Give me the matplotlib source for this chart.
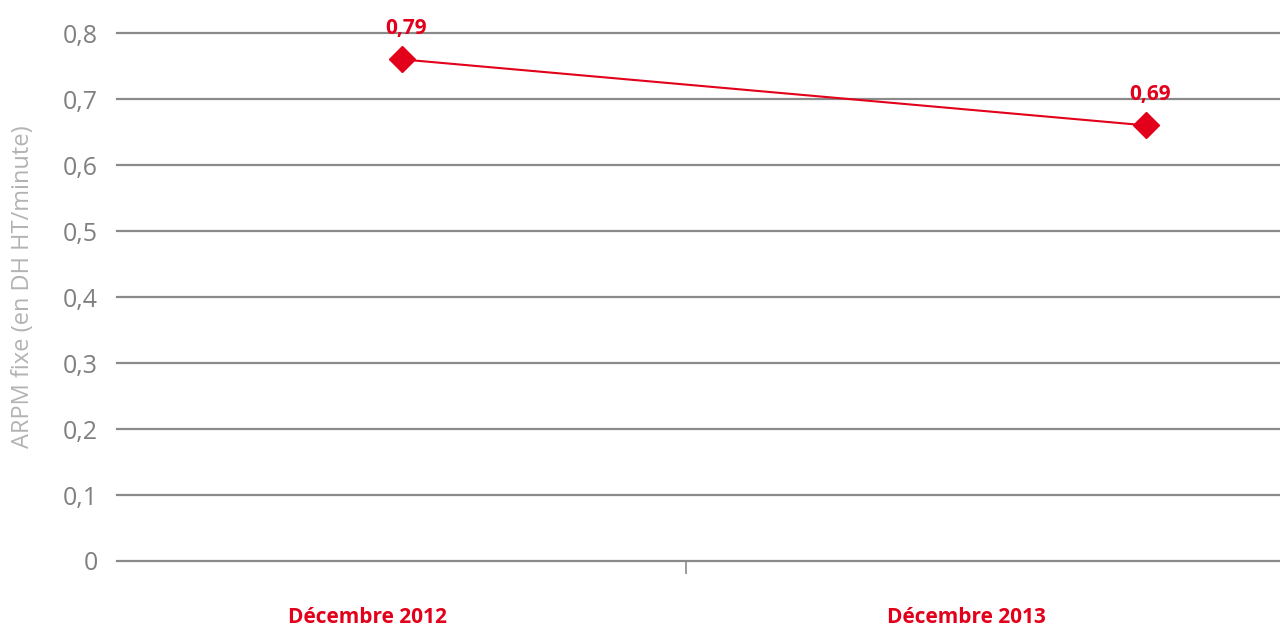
import matplotlib
matplotlib.use("Agg")
import matplotlib.pyplot as plt

categories = ["Décembre 2012", "Décembre 2013"]
arpm_values = [0.76, 0.66]
value_labels = ["0,79", "0,69"]
y_ticks = [0, 0.1, 0.2, 0.3, 0.4, 0.5, 0.6, 0.7, 0.8]
y_tick_labels = ["0", "0,1", "0,2", "0,3", "0,4", "0,5", "0,6", "0,7", "0,8"]

red = "#e2001a"
grid_grey = "#8a8a8a"

plt.rcParams["font.family"] = ["Open Sans", "DejaVu Sans"]

fig = plt.figure(figsize=(12.8, 6.26), dpi=100)
ax = fig.add_axes([117 / 1280, 65 / 626, 1163 / 1280, 528 / 626])

# the original chart places points and category labels slightly off-centre
point_pos = [-0.01, 1.27]
label_pos = [-0.07, 0.96]

for y in y_ticks:
    ax.axhline(y, color=grid_grey, lw=1.6, zorder=1, clip_on=False)

ax.plot(point_pos, arpm_values, color=red, lw=1.5, marker="D", markersize=13,
        zorder=3, clip_on=False)
for x, v, lab in zip(point_pos, arpm_values, value_labels):
    ax.annotate(lab, (x, v), xytext=(3, 15), textcoords="offset points",
                ha="center", va="bottom", color=red, fontsize=15,
                fontweight="bold", annotation_clip=False)

ax.set_xlim(-0.5, 1.5)
ax.set_ylim(0, 0.8)
ax.set_yticks(y_ticks)
ax.set_yticklabels(y_tick_labels)
ax.tick_params(axis="y", length=0, pad=14, labelsize=18, labelcolor="#808080")

ax.set_xticks(label_pos)
ax.set_xticklabels(categories, fontweight="bold", fontsize=15, color=red)
ax.tick_params(axis="x", length=0, pad=33)
ax.set_xticks([0.478], minor=True)
ax.tick_params(axis="x", which="minor", length=9, width=1.2, color=grid_grey)

for s in ax.spines.values():
    s.set_visible(False)

ax.set_ylabel("ARPM fixe (en DH HT/minute)", color="#b3b3b3", fontsize=17)
ax.yaxis.set_label_coords(-82 / 1163, 0.52)

fig.savefig("out.png", dpi=100)
